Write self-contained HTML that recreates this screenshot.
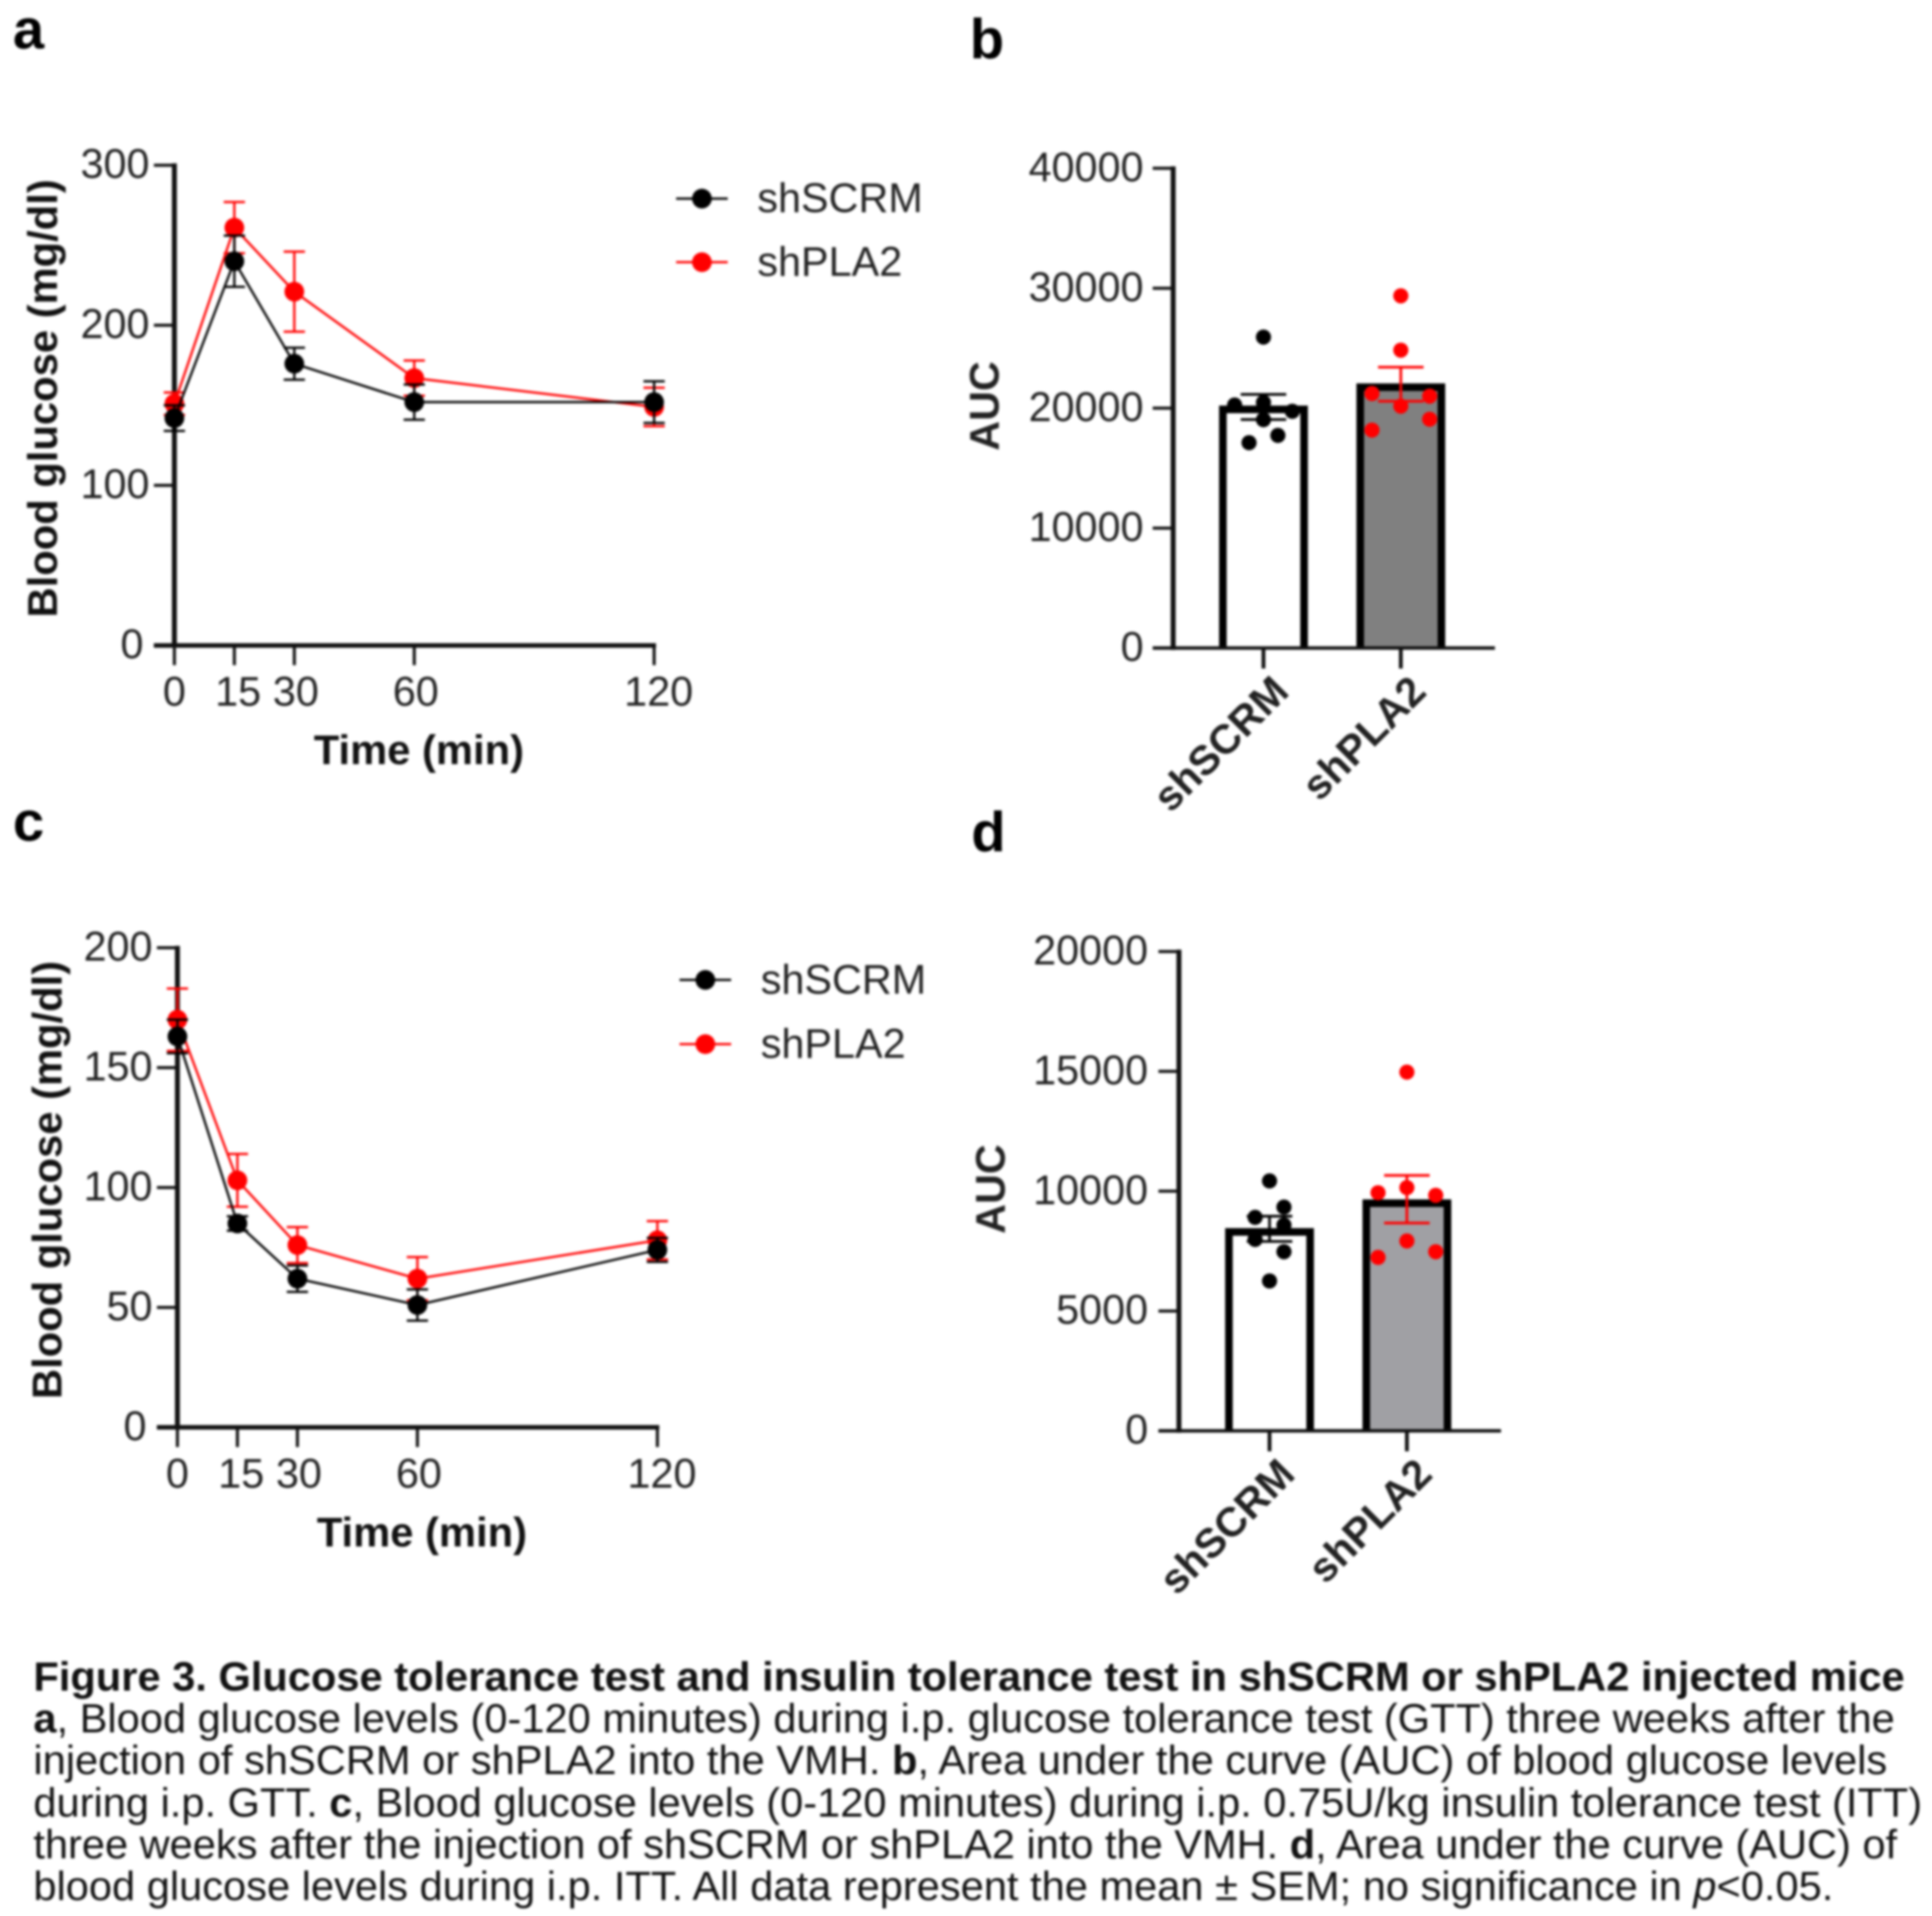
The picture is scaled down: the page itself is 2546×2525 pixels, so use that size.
<!DOCTYPE html>
<html lang="en">
<head>
<meta charset="utf-8">
<title>Figure 3. Glucose and insulin tolerance tests</title>
<style>
html,body{margin:0;padding:0;background:#fff;}
#figure{display:block;width:2546px;height:2525px;filter:blur(1.7px);font-family:"Liberation Sans",Arial,sans-serif;}
.lbl{font-weight:bold;font-size:74px;fill:#000;}
.cap{font-size:54px;fill:#111;}
.b{font-weight:bold;}
</style>
</head>
<body>
<svg id="figure" xmlns="http://www.w3.org/2000/svg" width="2546" height="2525" viewBox="0 0 2546 2525">
  <rect width="2546" height="2525" fill="#fff"/>
  <text class="lbl" x="17" y="64">a</text>
  <text class="lbl" x="1278" y="77">b</text>
  <text class="lbl" x="17" y="1108">c</text>
  <text class="lbl" x="1280" y="1122">d</text>
  <g id="panel-a"></g>
  <g id="panel-b"></g>
  <g id="panel-c"></g>
  <g id="panel-d"></g>
  <g>
    <text class="cap b" x="44" y="2228" textLength="2466" lengthAdjust="spacingAndGlyphs">Figure 3. Glucose tolerance test and insulin tolerance test in shSCRM or shPLA2 injected mice</text>
    <text class="cap" x="44" y="2283" textLength="2453" lengthAdjust="spacingAndGlyphs"><tspan class="b">a</tspan>, Blood glucose levels (0-120 minutes) during i.p. glucose tolerance test (GTT) three weeks after the</text>
    <text class="cap" x="44" y="2338" textLength="2443" lengthAdjust="spacingAndGlyphs">injection of shSCRM or shPLA2 into the VMH. <tspan class="b">b</tspan>, Area under the curve (AUC) of blood glucose levels</text>
    <text class="cap" x="44" y="2394" textLength="2489" lengthAdjust="spacingAndGlyphs">during i.p. GTT. <tspan class="b">c</tspan>, Blood glucose levels (0-120 minutes) during i.p. 0.75U/kg insulin tolerance test (ITT)</text>
    <text class="cap" x="44" y="2449" textLength="2456" lengthAdjust="spacingAndGlyphs">three weeks after the injection of shSCRM or shPLA2 into the VMH. <tspan class="b">d</tspan>, Area under the curve (AUC) of</text>
    <text class="cap" x="44" y="2504" textLength="2372" lengthAdjust="spacingAndGlyphs">blood glucose levels during i.p. ITT. All data represent the mean ± SEM; no significance in <tspan font-style="italic">p</tspan>&lt;0.05.</text>
  </g>
</svg>
<script>
// ---- Shared categories ----
const timePoints = [0, 15, 30, 60, 120];
const groupNames = ["shSCRM", "shPLA2"];

// ---- Panel a: GTT ----
const gttYTicks = [0, 100, 200, 300];
const gttScrmMean = [142, 240, 176, 152, 152];
const gttScrmSem = [8, 16, 10, 11, 13];
const gttPlaMean = [151, 261, 221, 167, 149];
const gttPlaSem = [7, 16, 25, 11, 12];

// ---- Panel b: GTT AUC ----
const gttAucTicks = [0, 10000, 20000, 30000, 40000];
const gttAucMeans = [19900, 21750];
const gttAucSems = [1050, 1420];
const gttAucErrCenters = [20100, 22000];
const gttAucScrmPoints = [25926, 20260, 20480, 19740, 19040, 17120, 17730];
const gttAucScrmSlots = [0, -2, 0, 2, 0, -1, 1];
const gttAucPlaPoints = [29368, 24836, 21220, 21000, 20170, 19080, 18170];
const gttAucPlaSlots = [0, 0, -2, 2, 0, 2, -2];

// ---- Panel c: ITT ----
const ittYTicks = [0, 50, 100, 150, 200];
const ittScrmMean = [163, 85, 62, 51, 74];
const ittScrmSem = [7, 3, 5.5, 6.5, 5];
const ittPlaMean = [170, 103, 76, 62, 78];
const ittPlaSem = [13, 11, 7.5, 9, 8];

// ---- Panel d: ITT AUC ----
const ittAucTicks = [0, 5000, 10000, 15000, 20000];
const ittAucMeans = [8300, 9500];
const ittAucSems = [525, 995];
const ittAucErrCenters = [8430, 9665];
const ittAucScrmPoints = [10428, 9336, 8908, 8587, 7987, 7473, 6253];
const ittAucScrmSlots = [0, 1, -1, 1, -1, 1, 0];
const ittAucPlaPoints = [14968, 10150, 9936, 9829, 7923, 7473, 7238];
const ittAucPlaSlots = [0, 0, -2, 2, 0, 2, -2];

const NS = "http://www.w3.org/2000/svg";
const FONT = 54.5;
const TITLE_FONT = 55;

function mk(parent, tag, attrs, text) {
  const el = document.createElementNS(NS, tag);
  for (const k in attrs) el.setAttribute(k, attrs[k]);
  if (text !== undefined) el.textContent = text;
  parent.appendChild(el);
  return el;
}

function drawYAxis(g, yOf, ticks, axisX, tickLeft, labelRight, zeroShift) {
  const axis = mk(g, "line", {x1: axisX, x2: axisX, y1: yOf(ticks[ticks.length - 1]) - 2.5, y2: yOf(0) + 2.5, stroke: "#111", "stroke-width": 6.5});
  
  
  ticks.forEach(function (t) {
    const tick = mk(g, "line", {x1: tickLeft, x2: axisX, y1: yOf(t), y2: yOf(t), stroke: "#111", "stroke-width": 4});
    
    
    const lab = mk(g, "text", {x: t === 0 ? labelRight - zeroShift : labelRight, y: yOf(t) + 17, "text-anchor": "end", "font-size": FONT, fill: "#222"}, String(t));
    
    
  });
}

function drawSeries(g, xOf, yOf, means, sems, color, name) {
  const pts = means.map(function (m, i) { return xOf(timePoints[i]) + "," + yOf(m); }).join(" ");
  const line = mk(g, "polyline", {points: pts, fill: "none", stroke: color, "stroke-width": 3});
  
  
  means.forEach(function (m, i) {
    const x = xOf(timePoints[i]);
    const hi = yOf(m + sems[i]);
    const lo = yOf(m - sems[i]);
    const err = mk(g, "path", {d: "M" + x + " " + hi + "V" + lo + "M" + (x - 14) + " " + hi + "H" + (x + 14) + "M" + (x - 14) + " " + lo + "H" + (x + 14), fill: "none", stroke: color, "stroke-width": 3});
    
    
    const dot = mk(g, "circle", {cx: x, cy: yOf(m), r: 13, fill: color});
    
    
  });
}

function drawLinePanel(id, p, yTicks, scrmMean, scrmSem, plaMean, plaSem) {
  const g = document.getElementById(id);
  const yMax = yTicks[yTicks.length - 1];
  const yOf = function (v) { return p.y0 - (p.y0 - p.yTop) * v / yMax; };
  const xOf = function (v) { return p.x0 + (p.x120 - p.x0) * v / 120; };
  drawYAxis(g, yOf, yTicks, p.x0, p.x0 - 27, p.labelRight, 8);
  const xAxis = mk(g, "line", {x1: p.x0 - 27, x2: p.x120 + 2.5, y1: p.y0, y2: p.y0, stroke: "#111", "stroke-width": 6});
  
  
  timePoints.forEach(function (t) {
    const tick = mk(g, "line", {x1: xOf(t), x2: xOf(t), y1: p.y0, y2: p.y0 + 26, stroke: "#111", "stroke-width": 4});
    
    
    const shift = t === 0 ? 0 : (t === 15 ? 5 : (t === 120 ? 6 : 2));
    const lab = mk(g, "text", {x: xOf(t) + shift, y: p.xLabelY, "text-anchor": "middle", "font-size": FONT, fill: "#222"}, String(t));
    
    
  });
  const xt = mk(g, "text", {x: p.xTitleX, y: p.xTitleY, "text-anchor": "middle", "font-size": TITLE_FONT, "font-weight": "bold", fill: "#111"}, "Time (min)");
  
  
  const yt = mk(g, "text", {transform: "translate(" + p.yTitleX + " " + p.yTitleY + ") rotate(-90)", "text-anchor": "middle", "font-size": TITLE_FONT, "font-weight": "bold", fill: "#111"}, "Blood glucose (mg/dl)");
  
  

  drawSeries(g, xOf, yOf, plaMean, plaSem, "#f00", "shpla2");
  drawSeries(g, xOf, yOf, scrmMean, scrmSem, "#000", "shscrm");

  groupNames.forEach(function (n, i) {
    const color = i === 0 ? "#000" : "#f00";
    const ly = i === 0 ? p.legendY1 : p.legendY2;
    const ll = mk(g, "line", {x1: p.legendX, x2: p.legendX + 68, y1: ly, y2: ly, stroke: color, "stroke-width": 3});
    
    
    const ld = mk(g, "circle", {cx: p.legendX + 34, cy: ly, r: 13, fill: color});
    
    
    const lt = mk(g, "text", {x: p.legendX + 107, y: ly + 18, "font-size": FONT, fill: "#222"}, n);
    
    
  });
}

function drawBarPanel(id, p, ticks, means, sems, errCenters, pointSets, slotSets) {
  const g = document.getElementById(id);
  const yMax = ticks[ticks.length - 1];
  const yOf = function (v) { return p.y0 - (p.y0 - p.yTop) * v / yMax; };
  const xOf = function (i) { return p.cx0 + p.step * i; };
  const colors = ["#000", "#f00"];
  const fills = ["#fff", p.fill];
  means.forEach(function (m, i) {
    const left = xOf(i) - 53.5;
    const right = xOf(i) + 53.5;
    const bar = mk(g, "path", {d: "M" + left + " " + p.y0 + "V" + yOf(m) + "H" + right + "V" + p.y0, fill: fills[i], stroke: "#000", "stroke-width": 10});
    
    
  });
  drawYAxis(g, yOf, ticks, p.axisX, p.axisX - 27, p.labelRight, 0);
  const xAxis = mk(g, "line", {x1: p.axisX - 27, x2: p.axisRight, y1: p.y0, y2: p.y0, stroke: "#111", "stroke-width": 4.5});
  
  
  groupNames.forEach(function (n, i) {
    const tick = mk(g, "line", {x1: xOf(i), x2: xOf(i), y1: p.y0, y2: p.y0 + 27, stroke: "#111", "stroke-width": 5});
    
    
    const lab = mk(g, "text", {transform: "translate(" + (xOf(i) + 36) + " " + (p.y0 + 60) + ") rotate(-45)", "text-anchor": "end", "font-size": FONT, "font-weight": "bold", fill: "#222"}, n);
    
    
  });
  const yt = mk(g, "text", {transform: "translate(" + p.yTitleX + " " + p.yTitleY + ") rotate(-90)", "text-anchor": "middle", "font-size": FONT, "font-weight": "bold", fill: "#222"}, "AUC");
  
  
  pointSets.forEach(function (set, i) {
    set.forEach(function (v, j) {
      const dot = mk(g, "circle", {cx: xOf(i) + slotSets[i][j] * 19, cy: yOf(v), r: 10, fill: colors[i]});
      
      
    });
    const x = xOf(i);
    const hi = yOf(errCenters[i] + sems[i]);
    const lo = yOf(errCenters[i] - sems[i]);
    const err = mk(g, "path", {d: "M" + x + " " + hi + "V" + lo + "M" + (x - 30) + " " + hi + "H" + (x + 30) + "M" + (x - 30) + " " + lo + "H" + (x + 30), fill: "none", stroke: colors[i], "stroke-width": 3.5});
    
    
  });
}

drawLinePanel("panel-a",
  {x0: 229.8, x120: 862, y0: 850.6, yTop: 217.7, labelRight: 197, xLabelY: 930, xTitleX: 552, xTitleY: 1007, yTitleX: 75, yTitleY: 525, legendX: 891, legendY1: 261.7, legendY2: 345.5},
  gttYTicks, gttScrmMean, gttScrmSem, gttPlaMean, gttPlaSem);

drawBarPanel("panel-b",
  {axisX: 1546, axisRight: 1970, y0: 854, yTop: 221.8, labelRight: 1507, cx0: 1665, step: 181, fill: "#808080", yTitleX: 1316, yTitleY: 535},
  gttAucTicks, gttAucMeans, gttAucSems, gttAucErrCenters, [gttAucScrmPoints, gttAucPlaPoints], [gttAucScrmSlots, gttAucPlaSlots]);

drawLinePanel("panel-c",
  {x0: 233.8, x120: 866.3, y0: 1881, yTop: 1249, labelRight: 201, xLabelY: 1960.5, xTitleX: 556, xTitleY: 2038, yTitleX: 81, yTitleY: 1555, legendX: 895.5, legendY1: 1291.4, legendY2: 1376},
  ittYTicks, ittScrmMean, ittScrmSem, ittPlaMean, ittPlaSem);

drawBarPanel("panel-d",
  {axisX: 1553.6, axisRight: 1978, y0: 1885.6, yTop: 1254, labelRight: 1513, cx0: 1673, step: 181, fill: "#a0a0a4", yTitleX: 1324, yTitleY: 1567},
  ittAucTicks, ittAucMeans, ittAucSems, ittAucErrCenters, [ittAucScrmPoints, ittAucPlaPoints], [ittAucScrmSlots, ittAucPlaSlots]);
</script>
</body>
</html>
